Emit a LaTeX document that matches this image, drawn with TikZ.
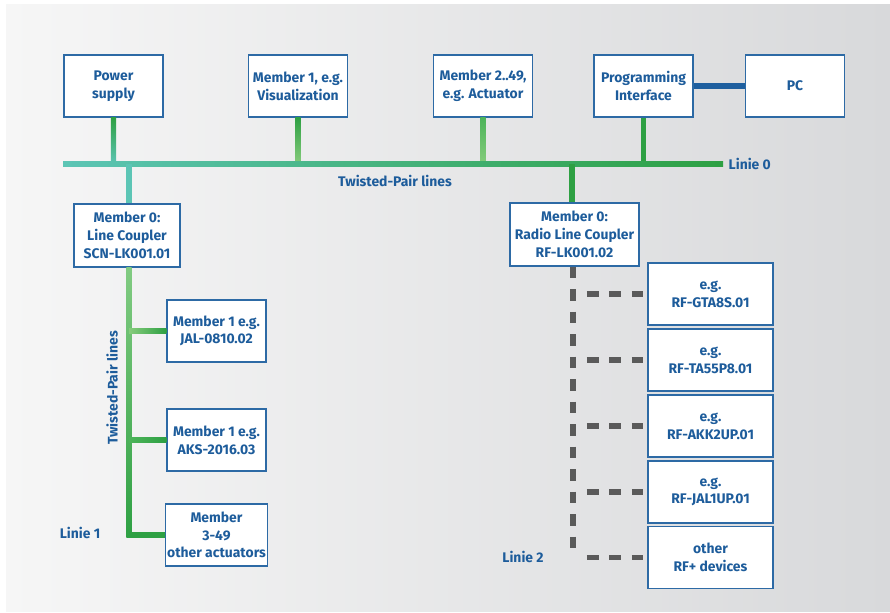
\documentclass[tikz,border=0pt]{standalone}
\usepackage{fontspec}
\setmainfont{Fira Sans}
\usepackage{xcolor}
\usetikzlibrary{positioning,calc}

\definecolor{txtblue}{HTML}{1D5C9B}
\definecolor{boxblue}{HTML}{2D6AA5}
\definecolor{pcblue}{HTML}{1E5F9F}
\definecolor{tealc}{HTML}{5CC5B5}
\definecolor{lgreen}{HTML}{86CC7C}
\definecolor{mgreen}{HTML}{4DB45A}
\definecolor{dgreen}{HTML}{2EA043}
\definecolor{dashgray}{HTML}{5A5A5A}
\definecolor{bgleft}{HTML}{F6F6F6}
\definecolor{bgright}{HTML}{D8D9DB}

\begin{document}
\begin{tikzpicture}[x=0.025cm, y=-0.025cm,
  font=\fontsize{9.9}{12.6}\selectfont\bfseries,
  box/.style={draw=boxblue, line width=0.9pt, fill=white, text=txtblue, align=center,
    inner sep=1pt, minimum width=2.475cm, minimum height=1.55cm},
  rfbox/.style={box, minimum width=3.125cm},
  lbl/.style={text=txtblue, inner sep=1pt},
  rfline/.style={draw=dashgray, line width=4.2pt, dash pattern=on 8.2pt off 7.8pt},
  pcline/.style={draw=pcblue, line width=3.6pt}]

  % background
  \useasboundingbox (0,0) rectangle (890,613);
  \shade[left color=bgleft, right color=bgright] (6,4) rectangle (890,611);

  % bus coordinates
  \coordinate (busL) at (63,164);
  \coordinate (busR) at (723,164);

  % top row
  \node[box] (ps) at (113.5,86) {Power\\supply};
  \node[box] (vis) at (298,86) {Member 1, e.g.\\Visualization};
  \node[box] (act) at (483,86) {Member 2..49,\\e.g. Actuator};
  \node[box] (prog) at (643.5,86) {Programming\\Interface};
  \node[box] (pc) at (795,86) {PC};
  \draw[pcline] (prog) -- (pc);

  % couplers
  \node[box, minimum width=2.65cm, minimum height=1.575cm] (lc) at (127,235.5) {Member 0:\\Line Coupler\\SCN-LK001.01};
  \node[box, minimum width=3.225cm, minimum height=1.575cm] (rlc) at (574.5,234.5) {Member 0:\\Radio Line Coupler\\RF-LK001.02};

  % drops to bus
  \shade[top color=dgreen, middle color=lgreen, bottom color=tealc]
    ($(ps.south)+(-2.6,0)$) rectangle ($(ps.south |- busL)+(2.6,0)$);
  \shade[top color=dgreen, bottom color=lgreen]
    ($(vis.south)+(-2.6,0)$) rectangle ($(vis.south |- busL)+(2.6,0)$);
  \shade[top color=mgreen, middle color=lgreen!80!white, bottom color=lgreen]
    ($(act.south)+(-2.6,0)$) rectangle ($(act.south |- busL)+(2.6,0)$);
  \fill[dgreen]
    ($(prog.south)+(-2.6,0)$) rectangle ($(prog.south |- busL)+(2.6,0)$);

  % main bus (Linie 0)
  \shade[left color=tealc, middle color=lgreen, right color=dgreen]
    ($(busL)+(0,-2.6)$) rectangle ($(busR)+(0,2.6)$);

  % drops from bus to couplers
  \fill[tealc] (126.4,164) rectangle ($(lc.north)+(4.6,0)$);
  \fill[dgreen] (569.4,164) rectangle ($(rlc.north)+(0.1,0)$);

  \node[lbl, anchor=west] (l0) at ($(busR)+(4,0)$) {Linie 0};
  \node[lbl] (tp0) at (395,181) {Twisted-Pair lines};

  % Linie 1
  \node[box] (m1a) at (216.5,331) {Member 1 e.g.\\JAL-0810.02};
  \node[box] (m1b) at (216.5,440) {Member 1 e.g.\\AKS-2016.03};
  \node[box] (m3) at (216.5,535) {Member\\3-49\\other actuators};

  \shade[top color=lgreen!90!tealc, bottom color=dgreen]
    (126.4,267) rectangle (131.6,537.6);
  \foreach \m/\c in {m1a/lgreen, m1b/mgreen, m3/dgreen} {
    \shade[left color=\c, right color=dgreen]
      ($(\m.west -| 129,0)+(0,-2.6)$) rectangle ($(\m.west)+(0,2.6)$);
  }
  \node[lbl, rotate=90] (tp1) at (112,388) {Twisted-Pair lines};
  \node[lbl] (l1) at (80,533) {Linie 1};

  % Linie 2 (radio)
  \node[rfbox] (rf1) at (710.5,294) {e.g.\\RF-GTA8S.01};
  \node[rfbox] (rf2) at (710.5,360) {e.g.\\RF-TA55P8.01};
  \node[rfbox] (rf3) at (710.5,426) {e.g.\\RF-AKK2UP.01};
  \node[rfbox] (rf4) at (710.5,492) {e.g.\\RF-JAL1UP.01};
  \node[rfbox] (rf5) at (710.5,557.5) {other\\RF+ devices};

  \coordinate (rfbot) at (573,558);
  \draw[rfline] (rlc.south -| rfbot) -- (rfbot);
  \foreach \r in {rf1,rf2,rf3,rf4,rf5} {
    \draw[rfline, dash phase=8.2pt] (\r.west -| 576,0) -- ($(\r.west)+(-4,0)$);
  }
  \node[lbl] (l2) at (523,557) {Linie 2};

\end{tikzpicture}
\end{document}
